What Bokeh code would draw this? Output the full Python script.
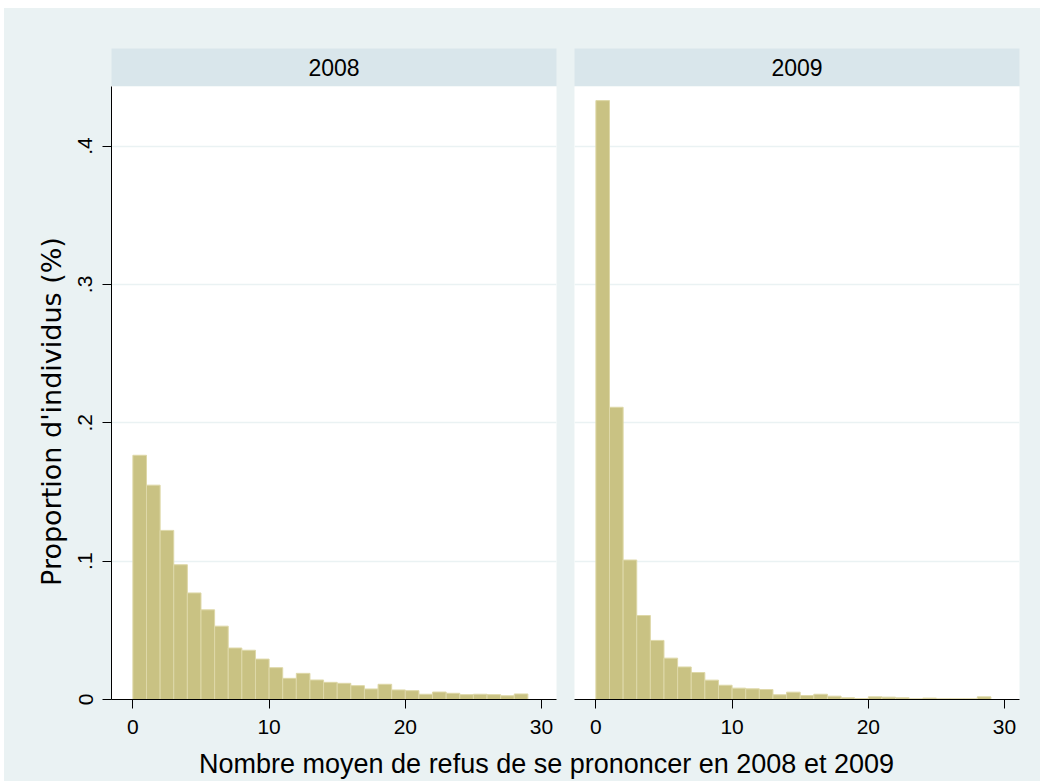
import math
from bokeh.plotting import figure
from bokeh.layouts import row, column
from bokeh.models import Range1d, FixedTicker, Spacer
from bokeh.core.properties import value
from bokeh.embed import file_html
from bokeh.resources import INLINE

# ---------------- data ----------------
years = ["2008", "2009"]
bin_left = [0, 1, 2, 3, 4, 5, 6, 7, 8, 9, 10, 11, 12, 13, 14, 15, 16, 17, 18, 19,
            20, 21, 22, 23, 24, 25, 26, 27, 28]
bin_width = 1.0
prop_2008 = [0.1765, 0.1549, 0.1222, 0.0974, 0.0770, 0.0648, 0.0530, 0.0372, 0.0356, 0.0292,
             0.0230, 0.0153, 0.0189, 0.0141, 0.0124, 0.0117, 0.0100, 0.0076, 0.0110, 0.0069,
             0.0064, 0.0038, 0.0054, 0.0045, 0.0035, 0.0038, 0.0035, 0.0027, 0.0040]
prop_2009 = [0.4328, 0.2112, 0.1008, 0.0607, 0.0427, 0.0299, 0.0235, 0.0195, 0.0140, 0.0103,
             0.0082, 0.0077, 0.0072, 0.0034, 0.0053, 0.0029, 0.0038, 0.0024, 0.0012, 0.0007,
             0.0019, 0.0017, 0.0012, 0.0005, 0.0010, 0.0005, 0.0005, 0.0005, 0.0019]
x_ticks = [0, 10, 20, 30]
y_ticks = [0, 0.1, 0.2, 0.3, 0.4]
y_tick_labels = ["0", ".1", ".2", ".3", ".4"]
x_title = "Nombre moyen de refus de se prononcer en 2008 et 2009"
y_title = "Proportion d'individus (%)"

# ---------------- style ----------------
BG = "#EAF2F3"
STRIP = "#D9E6EB"
BAR = "#C9C283"
BAR_EDGE = "#DED8A8"
FONT = "Liberation Sans"

X_RANGE = (-1.57, 31.1)
Y_RANGE = (0, 0.443)

LEFT_W, RIGHT_W, YT_W = 497, 475, 64
STRIP_H, PANEL_H, XT_H = 78, 657, 38


def bare(width, height, xr, yr, **kw):
    f = figure(width=width, height=height, x_range=Range1d(*xr), y_range=Range1d(*yr),
               x_axis_type=None, y_axis_type=None, output_backend="svg",
               toolbar_location=None, **kw)
    f.grid.visible = False
    f.outline_line_color = None
    f.border_fill_color = BG
    f.background_fill_color = BG
    return f


def strip(label, width, left, right):
    s = bare(width, STRIP_H, (0, 1), (0, 1), min_border_left=left, min_border_right=right,
             min_border_top=40, min_border_bottom=0)
    s.background_fill_color = STRIP
    s.text(x=[0.5], y=[0.5], text=[label], text_align="center", text_baseline="middle",
           text_font=value(FONT), text_font_size="23px", text_color="black")
    return s


def style_axis(ax):
    ax.axis_line_color = "black"
    ax.axis_line_width = 1
    ax.major_tick_line_color = "black"
    ax.major_tick_in = 0
    ax.major_tick_out = 9
    ax.minor_tick_line_color = None
    ax.major_label_text_font = FONT
    ax.major_label_text_font_size = "21px"
    ax.major_label_text_color = "black"


def panel(vals, width, left, right, show_y):
    p = figure(width=width, height=PANEL_H, x_range=Range1d(*X_RANGE), y_range=Range1d(*Y_RANGE),
               output_backend="svg", toolbar_location=None,
               y_axis_location="left" if show_y else None,
               min_border_left=left, min_border_right=right,
               min_border_top=0, min_border_bottom=44)
    p.outline_line_color = None
    p.background_fill_color = "white"
    p.border_fill_color = BG
    p.xgrid.visible = False
    p.ygrid.ticker = FixedTicker(ticks=y_ticks)
    p.ygrid.grid_line_color = BG
    p.ygrid.grid_line_width = 1.5
    p.xaxis.ticker = FixedTicker(ticks=x_ticks)
    style_axis(p.xaxis[0])
    p.xaxis.major_label_standoff = 11
    if show_y:
        p.yaxis.ticker = FixedTicker(ticks=y_ticks)
        p.yaxis.major_label_overrides = dict(zip(y_ticks, y_tick_labels))
        p.yaxis.major_label_orientation = "vertical"
        style_axis(p.yaxis[0])
        p.yaxis.major_label_standoff = 10
    rights = [b + bin_width for b in bin_left]
    p.quad(left=bin_left, right=rights, bottom=0, top=vals,
           fill_color=BAR, line_color=BAR_EDGE, line_width=1)
    return p


strip1 = strip(years[0], LEFT_W, 43, 9)
p1 = panel(prop_2008, LEFT_W, 43, 9, True)
strip2 = strip(years[1], RIGHT_W, 9, 21)
p2 = panel(prop_2009, RIGHT_W, 9, 21, False)

ytitle = bare(YT_W, STRIP_H + PANEL_H, (0, YT_W), (0, STRIP_H + PANEL_H), min_border=0)
ytitle.text(x=[47], y=[332], text=[y_title], angle=math.pi / 2, text_align="center",
            text_baseline="middle", text_font=value("DejaVu Sans"), text_font_size="27px",
            text_color="black")

total_w = YT_W + LEFT_W + RIGHT_W
xtitle = bare(total_w, XT_H, (0, total_w), (0, XT_H), min_border=0)
xtitle.text(x=[542], y=[18], text=[x_title], text_align="center", text_baseline="alphabetic",
            text_font=value(FONT), text_font_size="27px", text_color="black")

content = column(
    row(ytitle, column(strip1, p1, spacing=0), column(strip2, p2, spacing=0), spacing=0),
    xtitle, spacing=0, styles={"background-color": BG})

layout = row(Spacer(width=4, height=10), column(Spacer(width=10, height=8), content, spacing=0),
             spacing=0)

open("out.html", "w").write(file_html(layout, INLINE))
